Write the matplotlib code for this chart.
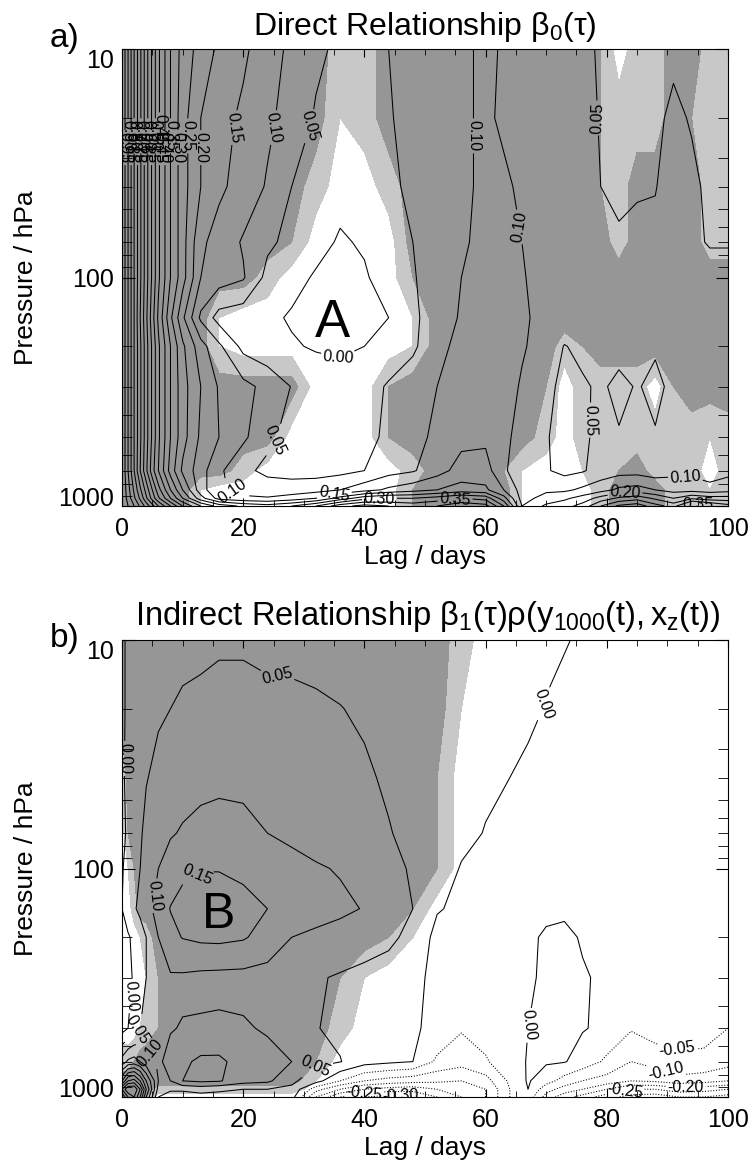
import numpy as np
import matplotlib
matplotlib.use("Agg")
import matplotlib.pyplot as plt
from matplotlib import transforms

plt.rcParams['font.family'] = ['Liberation Sans', 'DejaVu Sans']
plt.rcParams['mathtext.fontset'] = 'custom'
plt.rcParams['mathtext.rm'] = 'Liberation Sans'
plt.rcParams['mathtext.it'] = 'Liberation Sans:italic'

# pressure levels (hPa), top of the plot to the bottom
pres = [10, 20, 40, 70, 100, 150, 200, 300, 500, 700, 850, 925, 1000]

# panel a: direct relationship, values in hundredths
lags_a = [0, 1, 2, 3, 4, 5, 6, 8, 10, 13, 16, 20, 24, 28, 32, 36, 40, 44, 48, 52,
          56, 60, 63, 66, 70, 73, 76, 79, 82, 85, 88, 91, 94, 97, 100]
beta0 = [
    [100, 90, 80, 71, 62, 54, 46, 35, 28, 23, 19, 16, 12, 9, 6, 4, 3, 5, 7, 8, 9, 11, 9.5, 9, 8, 7, 6, 4.5, 4, 3.5, 4, 4.5, 4.5, 3.5, 4],
    [100, 90, 80, 71, 62, 54, 46, 35, 27, 20, 17, 14, 11, 8, 4.5, 2.5, 3, 4.5, 7, 8.5, 9.5, 10.5, 9.5, 9, 8, 7, 6, 4.8, 4, 3.5, 4.5, 5.5, 4.8, 3.5, 3.5],
    [100, 90, 80, 71, 62, 54, 46, 35, 27, 20, 16, 13, 9.5, 5, 3, 1.5, 1.5, 4, 6, 8, 9.5, 10.5, 10.5, 9.5, 8, 7, 6, 5, 4.5, 4.8, 4.9, 6, 5.5, 4.5, 4.5],
    [100, 90, 80, 71, 62, 54, 46, 35, 27, 16, 13, 9.5, 6, 3.5, 1.5, -0.5, 0.5, 3, 5, 7.5, 9.5, 11, 11, 10, 8.5, 7.5, 6.5, 5.8, 5.3, 5.5, 5.5, 6, 5.5, 4.8, 4.8],
    [100, 90, 80, 71, 62, 54, 46, 35, 27, 15, 12.5, 10.5, 3.5, 1.5, -0.5, -1.5, -0.5, 2, 4.5, 8, 10, 12, 12, 10.2, 9, 8.5, 8, 7.5, 7, 7, 7, 7, 6.5, 6, 6],
    [100, 90, 80, 70, 61, 52, 44, 31, 21, 9, 3, 2, 1, -0.5, -1.5, -2, -1.5, 0, 4, 7.5, 10.5, 13, 12.5, 10.5, 9, 8, 7.5, 7, 6.5, 6.5, 7, 7, 7, 6.5, 6.5],
    [100, 90, 80, 71, 62, 54, 46, 35, 26, 17, 11, 3.5, 1.5, 0.5, -0.5, -1, 0, 2, 4, 9, 11, 12, 12, 10.5, 8, 4.8, 6, 7, 6.4, 6.5, 5.5, 7.5, 7.5, 7.5, 7.5],
    [100, 90, 80, 71, 62, 54, 46, 35, 27, 20, 14.5, 11.5, 8.5, 4.8, 3, 2.5, 3, 5.5, 8, 10, 12, 13, 12, 9.5, 7, 3, 4.5, 5.6, 4, 5.3, 4, 6, 7.5, 7, 7],
    [100, 90, 80, 71, 62, 54, 46, 35, 27, 19, 15, 11, 6, 3.5, 2.5, 2.5, 3.5, 6, 8.5, 11, 13.5, 14, 11, 8.5, 5.5, 2.5, 4, 6.5, 5.3, 6.5, 5.3, 7, 7.5, 8, 8],
    [100, 90, 80, 70, 61, 52, 45, 33, 24, 17, 11, 6, 4, 3, 3, 3.5, 5, 8, 9.5, 13, 17, 17, 11, 6, 5.5, 3.5, 4.5, 7, 8, 8, 7, 8.5, 8.5, 7, 8.5],
    [100, 92, 84, 76, 68, 60, 52, 40, 30, 17, 11, 8, 7, 7.5, 8, 10, 13, 16, 18, 20, 22, 21, 15, 8, 9, 9, 11, 13, 16, 17, 15, 13, 13, 12, 13],
    [100, 93, 86, 79, 71, 63, 56, 45, 35, 22, 13, 11, 10.5, 12, 15, 22, 28, 30, 30, 32, 35, 33, 22, 8, 12, 14, 17, 22, 26, 28, 24, 20, 24, 22, 22],
    [100, 95, 90, 84, 78, 72, 65, 55, 45, 35, 28, 24, 22, 25, 30, 38, 42, 40, 38, 40, 44, 42, 30, 10, 16, 18, 22, 30, 36, 38, 32, 28, 40, 36, 32],
]
# shading (0 white, 2 light grey, 4 dark grey), one character per lag
sig_a = [
    "4" * 15 + "22" + "4" * 10 + "3022" + "44" + "22",
    "4" * 15 + "12" + "4" * 10 + "3222" + "4" + "3" + "22",
    "4" * 14 + "2002" + "4" * 9 + "32" + "4444" + "22",
    "4" * 13 + "3" + "0000" + "4" * 10 + "2" + "4444" + "22",
    "4" * 12 + "2" + "00000" + "3" + "4" * 16,
    "4" * 10 + "1" + "0" * 7 + "1" + "4" * 16,
    "4" * 10 + "1" + "0" * 7 + "1" + "4" * 6 + "23" + "4" * 8,
    "4" * 14 + "000" + "3" + "4" * 6 + "30" + "2222" + "03" + "444",
    "4" * 13 + "0000" + "3" + "4" * 6 + "20" + "2" * 7 + "12",
    "4" * 11 + "2" + "0" * 6 + "2" + "444" + "31" + "00" + "1234" + "222" + "02",
    "4" * 9 + "1" + "0" * 8 + "3" + "4444" + "1" + "000" + "2" + "444" + "2312",
    "4" * 9 + "1" + "0" * 8 + "3" + "4444" + "1" + "000" + "2" + "444" + "2312",
    "4" * 9 + "1" + "0" * 8 + "3" + "4444" + "1" + "000" + "2" + "444" + "2312",
]

# panel b: indirect relationship, values in hundredths
lags_b = [0, 1, 2, 3, 4, 6, 8, 10, 13, 16, 20, 24, 28, 32, 36, 40, 44, 48, 52, 56,
          60, 64, 67, 70, 73, 76, 80, 84, 88, 92, 96, 100]
beta1rho = [
    [-1, 1, 2, 2.5, 3, 3.5, 3.5, 4, 4, 4.5, 4.5, 4, 4, 3.8, 3.5, 3.2, 3, 2.5, 2, 1.5, 1.2, 0.9, 0.7, 0.4, 0.1, -0.2, -0.5, -0.7, -0.8, -0.9, -1, -1],
    [-1, 1, 2.5, 3.2, 3.8, 4.5, 5, 5.5, 6, 6.2, 6.2, 6, 5.8, 5.5, 5.1, 4.5, 4, 3.3, 2.7, 2, 1.4, 0.8, 0.4, -0.1, -0.4, -0.6, -0.8, -1, -1, -1, -1, -1],
    [-1, 1.5, 3, 4, 4.8, 6, 7, 7.8, 8.5, 8.8, 8.7, 8.3, 7.7, 7, 6.3, 5.5, 4.5, 3.5, 2.5, 1.7, 0.8, 0, -0.4, -0.7, -0.9, -1, -1.1, -1.2, -1.2, -1.2, -1.2, -1.2],
    [-1.5, 1, 3, 4.5, 6, 8, 9.5, 10.5, 11.5, 12, 11.5, 10, 9.2, 8.3, 7.3, 6.3, 5.2, 4, 2.8, 1.2, -0.2, -0.8, -1, -1.2, -1.2, -1.2, -1.2, -1.2, -1.2, -1.2, -1.2, -1.2],
    [-0.5, 2, 4, 5, 7, 10, 12.5, 14, 14.8, 14.8, 14, 12.5, 11.2, 10.4, 9.7, 8, 6.3, 4.5, 2.5, -0.3, -1, -1.2, -1.2, -1.2, -1.2, -1.2, -1.2, -1.2, -1.2, -1.2, -1.2, -1.2],
    [0, 2.5, 4.5, 6, 8, 12, 15.2, 16.5, 17.2, 17.2, 16.5, 15, 13.5, 12, 10.8, 9.8, 7.5, 5, 0.3, -0.8, -1, -1, -0.8, -0.5, -0.4, -0.6, -1, -1.2, -1.2, -1.2, -1.2, -1.2],
    [-1.5, -0.5, 1, 3, 5, 10, 13.5, 15.2, 16, 16.2, 15.5, 13, 10, 9, 8.5, 7.5, 6.5, 3, -1.2, -1.2, -1.2, -1, -0.4, 0.3, 0.5, -0.2, -0.8, -1, -1, -1, -1, -1],
    [-2, -1, 0.5, 3, 5, 8.5, 9.5, 9.3, 8.8, 8.6, 8.5, 8.2, 7.5, 5.5, 4.5, 3.5, 2, 0.5, -0.5, -0.8, -0.8, -0.5, -0.5, 0.6, 1, 0.2, -0.4, -0.8, -1, -1, -1, -1],
    [-2, 0, 3, 5, 7, 9, 9.8, 10.2, 10.5, 10.8, 10.5, 9.5, 7.5, 5.2, 4, 3, 1.8, 0.5, -1, -4.5, -3, -1, 0, 1, 1.2, 0.3, -1, -4.5, -2.5, -4, -3.5, -5],
    [12, 16, 17, 15, 12, 9.5, 11, 14, 16, 16, 13, 11.5, 10, 6, 5.2, 2, 1, 0, -6, -8, -5.5, -2, 0.3, 0.6, 0.3, -2, -6, -10, -8, -5.5, -6, -8],
    [30, 40, 42, 35, 25, 10, 10, 15, 16, 15.5, 12, 11, 6, 2, -5, -10, -12, -13, -14, -15, -12, -4, 0.5, -3, -7, -10, -12, -15, -14, -12, -13, -15],
    [45, 55, 55, 45, 30, 8, 6, 6, 7, 6, 5, 5, 4, -8, -15, -20, -22, -23, -20, -18, -15, -5, 0, -8, -12, -15, -20, -25, -25, -22, -23, -25],
    [35, 45, 50, 40, 25, 5, 2, 2, 3, 3, 2, 3, 2, -15, -25, -30, -32, -30, -25, -20, -15, -5, -2, -12, -18, -22, -28, -32, -33, -30, -30, -32],
]
sig_b = [
    "4" * 19 + "2" + "0" * 12,
    "4" * 19 + "1" + "0" * 12,
    "1" + "4" * 17 + "3" + "0" * 13,
    "03" + "4" * 16 + "3" + "0" * 13,
    "013" + "4" * 15 + "3" + "0" * 13,
    "002" + "4" * 14 + "3" + "0" * 14,
    "00012" + "4" * 11 + "31" + "0" * 14,
    "00001" + "3" + "4" * 8 + "31" + "0" * 16,
    "000123" + "4" * 8 + "2" + "0" * 17,
    "223" + "4" * 10 + "3" + "0" * 18,
    "4" * 13 + "1" + "0" * 18,
    "4" * 5 + "2" * 8 + "0" * 19,
    "4" * 4 + "3" + "0" * 27,
]

# where the contour labels sit (lag, hPa)
labels_a = [(0.0, 27), (0.5, 24), (1.0, 27), (1.5, 24), (2.0, 27), (2.55, 24), (3.1, 27),
            (3.7, 24), (4.25, 27), (4.9, 24), (5.5, 27), (6.1, 24), (7.1, 27), (8.0, 24),
            (9.25, 27), (10.9, 24), (13.0, 27), (18, 22), (24.7, 22), (31.5, 22),
            (35.5, 235), (25.5, 520), (18, 900), (58.7, 24), (65.7, 60), (79, 20),
            (76, 420), (93, 640), (42.5, 940), (55, 950), (83, 880), (35, 880), (95, 970)]
labels_b = [(25.5, 15), (69.5, 19), (0.5, 33), (13, 112), (4, 130), (1.2, 360),
            (2.6, 510), (4.8, 640), (31.5, 710), (66, 480), (92, 563), (90, 720),
            (83, 960), (93, 900), (40, 975), (46, 990)]

levels = np.round(np.arange(-10, 21) * 0.05, 2)
shades = ['white', '#c8c8c8', '#969696']


def fmt(v):
    s = '%.2f' % v
    return '0.00' if s == '-0.00' else s


def panel(ax, lags, vals, sig, label_pos):
    x = np.array(lags, dtype=float)
    y = np.log10(pres)
    z = np.array(vals, dtype=float) / 100.0
    for row in sig:
        assert len(row) == len(lags), row
    s = np.array([[int(c) for c in row] for row in sig], dtype=float)
    ax.contourf(x, y, s, levels=[-1, 1, 3, 5], colors=shades)
    cs = ax.contour(x, y, z, levels=levels, colors='k', linewidths=0.75,
                    negative_linestyles='dotted')
    ax.clabel(cs, fmt=fmt, fontsize=11.5, inline_spacing=2,
              manual=[(lx, np.log10(lp)) for lx, lp in label_pos])

    ax.set_xlim(0, 100)
    ax.set_ylim(3, 1)
    ax.set_xticks(range(0, 101, 20))
    ax.set_xticks(range(0, 101, 5), minor=True)
    ax.set_yticks([1, 2, 3])
    ax.set_yticklabels(['', '', ''])
    minor = [m * d for d in (10, 100) for m in range(2, 10)]
    ax.set_yticks(np.log10(minor), minor=True)
    ax.tick_params(which='both', direction='in', top=True, right=True, labelsize=18)
    ax.tick_params(axis='x', which='major', length=6, pad=8)
    ax.tick_params(axis='x', which='minor', length=4)
    ax.tick_params(axis='y', which='major', length=9)
    ax.tick_params(axis='y', which='minor', length=7)
    trans = transforms.blended_transform_factory(ax.transAxes, ax.transData)
    for val, txt, va in [(1, '10', 'top'), (2, '100', 'center_baseline'), (3, '1000', 'baseline')]:
        ax.text(-0.014, val, txt, transform=trans, ha='right', va=va, fontsize=18)


W, H = 753, 1169
fig = plt.figure(figsize=(W / 100, H / 100), dpi=100)
ax_a = fig.add_axes([122 / W, 1 - 506 / H, 606 / W, 457 / H])
ax_b = fig.add_axes([122 / W, 1 - 1097 / H, 606 / W, 457 / H])

panel(ax_a, lags_a, beta0, sig_a, labels_a)
panel(ax_b, lags_b, beta1rho, sig_b, labels_b)

ax_a.text(34.8, 2.26, 'A', fontsize=38, ha='center', va='baseline')
ax_b.text(16, 2.26, 'B', fontsize=36, ha='center', va='baseline')

fig.text(425 / W, 1 - 35 / H, r'Direct Relationship $\mathregular{\beta_0(\tau)}$',
         fontsize=23, ha='center', va='baseline')
fig.text(428 / W, 1 - 625 / H,
         r'Indirect Relationship $\mathregular{\beta_1(\tau)\rho(y_{1000}(t),x_z(t))}$',
         fontsize=23.5, ha='center', va='baseline')
fig.text(50 / W, 1 - 47 / H, 'a)', fontsize=24, va='baseline')
fig.text(50 / W, 1 - 647 / H, 'b)', fontsize=24, va='baseline')

for ytop in (506, 1097):
    fig.text(425 / W, 1 - (ytop + 58) / H, 'Lag / days', fontsize=19, ha='center', va='baseline')
for ymid in (277.5, 868.5):
    fig.text(26 / W, 1 - ymid / H, 'Pressure / hPa', fontsize=19, rotation=90,
             ha='center', va='center')

fig.savefig('out.png', dpi=100)
